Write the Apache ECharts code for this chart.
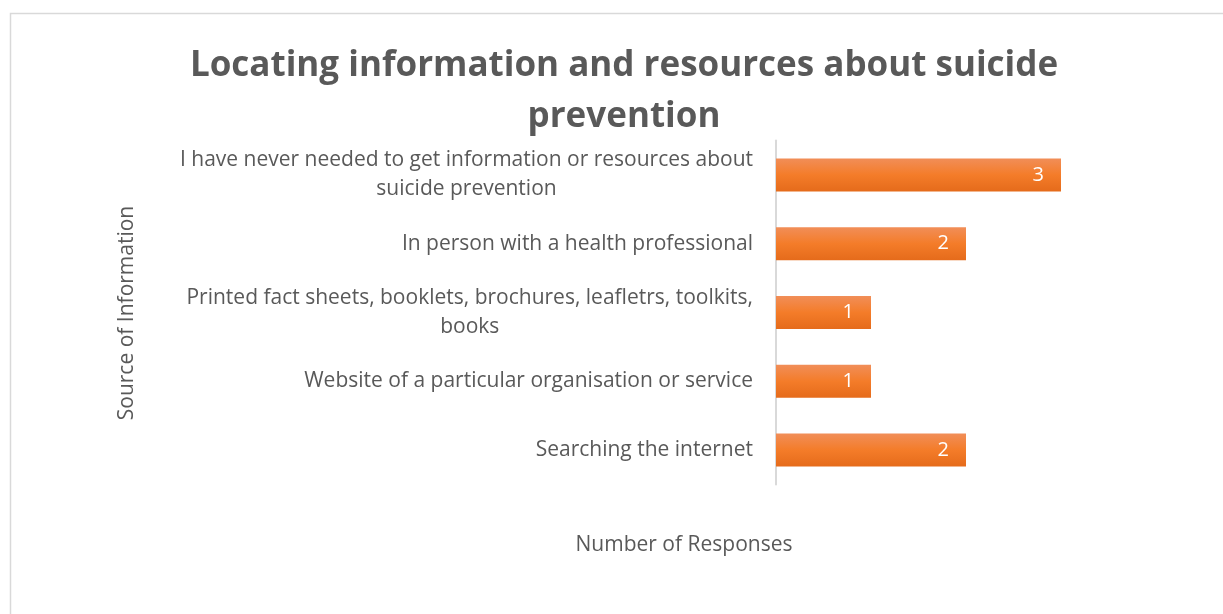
<!DOCTYPE html>
<html><head><meta charset="utf-8">
<script src="https://cdn.jsdelivr.net/npm/echarts@6/dist/echarts.min.js"></script>
<style>html,body{margin:0;padding:0;background:#fff}#c{width:1223px;height:614px}</style>
</head><body><div id="c"></div>
<script>
const titleText = 'Locating information and resources about suicide\nprevention';
const categories = [
  'Searching the internet',
  'Website of a particular organisation or service',
  'Printed fact sheets, booklets, brochures, leafletrs, toolkits,\nbooks',
  'In person with a health professional',
  'I have never needed to get information or resources about\nsuicide prevention'
];
const responses = [2, 1, 1, 2, 3];
const yAxisTitle = 'Source of Information';
const xAxisTitle = 'Number of Responses';

const FONT = 'Open Sans';
const GREY = '#595959';
const chart = echarts.init(document.getElementById('c'), null, {renderer: 'canvas'});
chart.setOption({
  backgroundColor: '#fff',
  animation: false,
  title: {
    text: titleText,
    left: 619,
    textAlign: 'center',
    top: 36,
    textStyle: {fontFamily: FONT, fontWeight: 'bold', fontSize: 35, color: GREY, lineHeight: 51}
  },
  graphic: [
    {type: 'rect', shape: {x: 10.5, y: 13.5, width: 1400, height: 800}, style: {fill: 'none', stroke: '#d9d9d9', lineWidth: 1.5}, silent: true},
    {type: 'text', x: 127, y: 313, rotation: Math.PI / 2, style: {text: yAxisTitle, fontFamily: FONT, fontSize: 21, fill: GREY, align: 'center', verticalAlign: 'middle'}},
    {type: 'text', x: 684, y: 545, style: {text: xAxisTitle, fontFamily: FONT, fontSize: 21, fill: GREY, align: 'center', verticalAlign: 'middle'}}
  ],
  grid: {left: 776, right: 67, top: 140.5, bottom: 129.5, containLabel: false},
  xAxis: {
    type: 'value', min: 0, max: 4,
    axisLabel: {show: false}, axisLine: {show: false}, axisTick: {show: false}, splitLine: {show: false}
  },
  yAxis: {
    type: 'category', data: categories,
    axisLine: {show: true, lineStyle: {color: '#d9d9d9', width: 2}},
    axisTick: {show: false},
    axisLabel: {
      margin: 23,
      color: GREY, fontFamily: FONT, fontSize: 21, lineHeight: 29,
      formatter: v => v.split('\n').map(s => '{c|' + s + '}').join('\n'),
      rich: {c: {align: 'center', color: GREY, fontFamily: FONT, fontSize: 21, lineHeight: 29}}
    }
  },
  series: [{
    type: 'bar', data: responses, barWidth: '48%',
    itemStyle: {color: new echarts.graphic.LinearGradient(0, 0, 0, 1, [
      {offset: 0, color: '#f18e58'}, {offset: 0.5, color: '#f47c29'}, {offset: 1, color: '#e56b1b'}])},
    label: {show: true, position: 'insideRight', distance: 17, color: '#fff', fontFamily: FONT, fontSize: 20}
  }]
});
</script></body></html>
